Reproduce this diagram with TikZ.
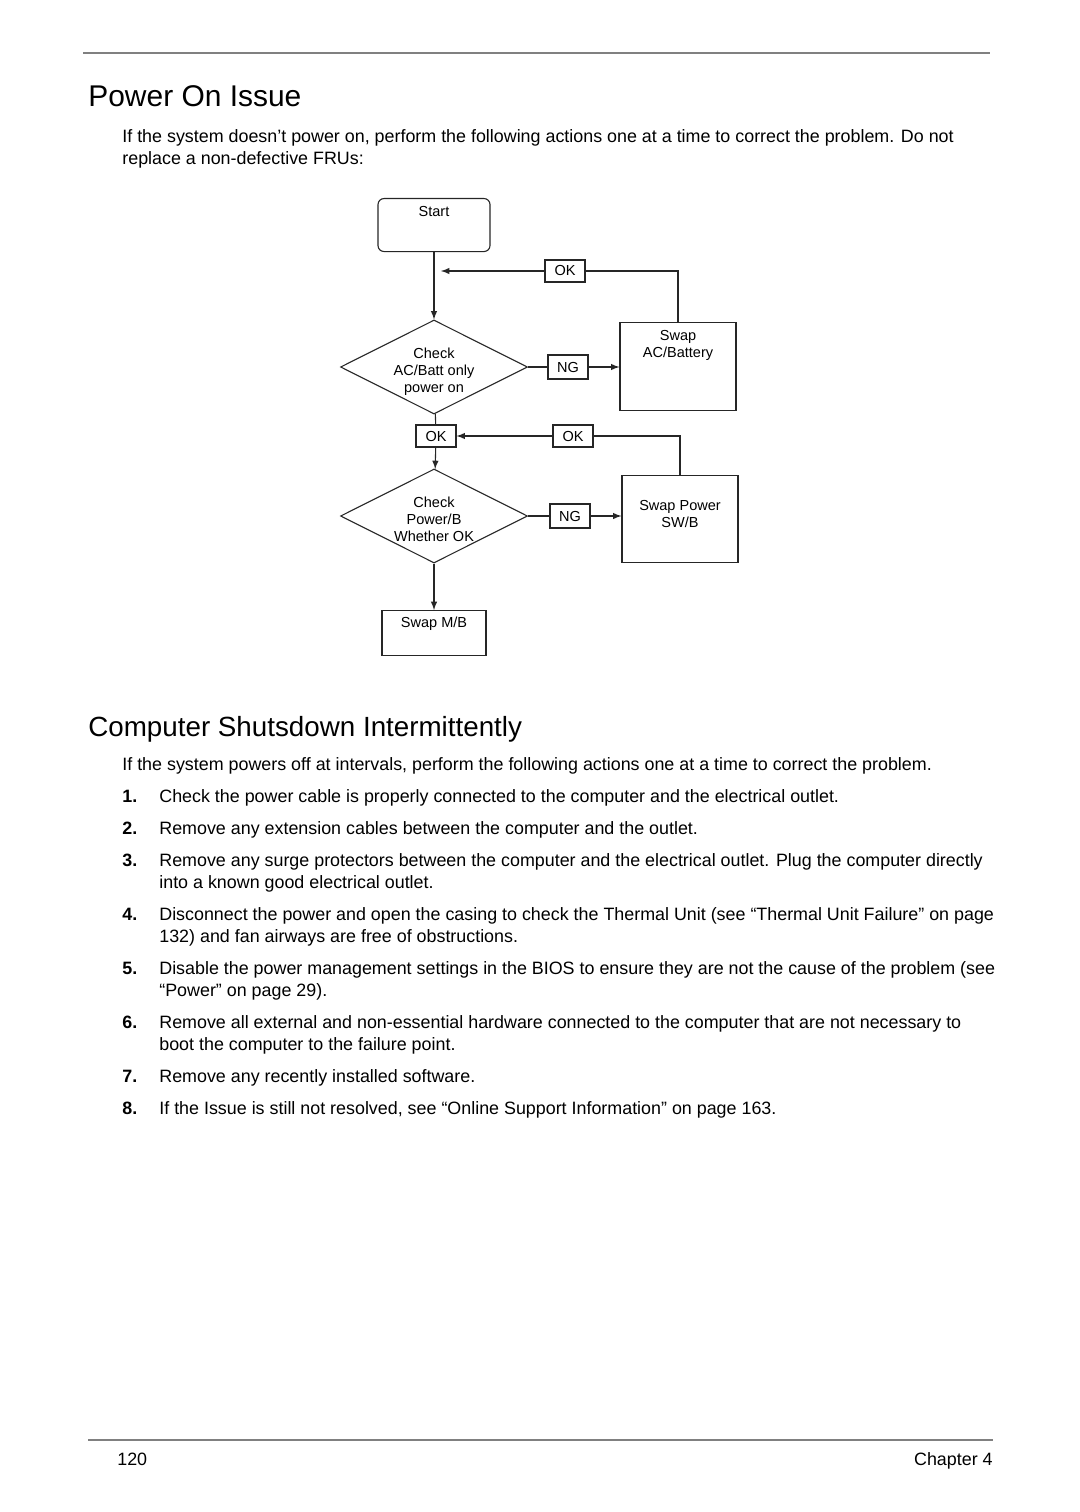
\documentclass[tikz,border=0pt]{standalone}
\usepackage{fontspec}
\setmainfont{Liberation Sans}
\usetikzlibrary{shapes.geometric}

\newdimen\pxu \pxu=0.551pt
\tikzset{
    box/.style={draw=black!85, line width=0.6pt, rectangle, inner sep=0pt, align=center, anchor=north, font=\fontsize{8}{9.4}\selectfont},
    tag/.style={draw=black!85, line width=0.6pt, minimum width=40\pxu, minimum height=22\pxu, inner sep=0pt, font=\fontsize{8}{9.4}\selectfont},
    decide/.style={draw=black!85, line width=0.6pt, diamond, aspect=2, inner sep=0pt, minimum width=187\pxu, minimum height=94\pxu, align=center, text height=28.5pt, text depth=0pt, font=\fontsize{8}{9.6}\selectfont},
    flow/.style={black!85, line width=0.6pt},
    body/.style={anchor=base west, inner sep=0pt, font=\fontsize{9.85}{12.1}\selectfont},
    rule/.style={gray, line width=1.1pt},
}

\begin{document}
\begin{tikzpicture}[>=latex, x=\pxu, y=-\pxu]
        \useasboundingbox (0,0) rectangle (1080,1512);

        \draw[rule] (83,53)--(990,53);
        \node[anchor=base west, inner sep=0pt, font=\fontsize{16.5}{20}\selectfont] (title) at (88,107) {Power On Issue};
        \node[body] (introA) at (122,143) {If the system doesn’t power on, perform the following actions one at a time to correct the problem. Do not};
        \node[body] (introB) at (122,165) {replace a non-defective FRUs:};

        % flowchart
        \node[box, rounded corners=6\pxu, minimum width=112\pxu, text height=18\pxu, text depth=35\pxu] (start) at (434,198) {Start};
        \node[decide] (chkA) at (434,367) {Check\\AC/Batt only\\power on};
        \node[tag] (okA) at (565,271) {OK};
        \node[tag, minimum height=24\pxu] (ngA) at (568,367) {NG};
        \node[box, minimum width=116\pxu, text height=35\pxu, text depth=53\pxu] (swapA) at (678,322) {Swap\\AC/Battery};
        \coordinate (mergeA) at (441,271);

        \node[tag] (okB) at (436,436) {OK};
        \node[tag] (okC) at (573,436) {OK};
        \node[decide] (chkB) at (434,516) {Check\\Power/B\\Whether OK};
        \node[tag, minimum height=24\pxu] (ngB) at (570,516) {NG};
        \node[box, minimum width=116\pxu, text height=52\pxu, text depth=35\pxu] (swapB) at (680,475) {Swap Power\\SW/B};
        \node[box, minimum width=104\pxu, text height=17\pxu, text depth=28\pxu] (swapM) at (434,610) {Swap M/B};

        \draw[flow,->] (start) -- (chkA);
        \draw[flow] (swapA.north) |- (okA);
        \draw[flow,->] (okA) -- (mergeA);
        \draw[flow] (chkA) -- (ngA);
        \draw[flow,->] (ngA) -- (swapA.west |- ngA);
        \draw[flow] (chkA) -- (okB);
        \draw[flow,->] (okB) -- (chkB);
        \draw[flow] (swapB.north) |- (okC);
        \draw[flow,->] (okC) -- (okB);
        \draw[flow] (chkB) -- (ngB);
        \draw[flow,->] (ngB) -- (swapB.west |- ngB);
        \draw[flow,->] (chkB) -- (swapM);

        % second section
        \node[anchor=base west, inner sep=0pt, font=\fontsize{15.3}{18}\selectfont] (sub) at (88,736) {Computer Shutsdown Intermittently};
        \node[body] (introC) at (122,770) {If the system powers off at intervals, perform the following actions one at a time to correct the problem.};
        \foreach \y/\n/\t in {802/1/{Check the power cable is properly connected to the computer and the electrical outlet.},
                              834/2/{Remove any extension cables between the computer and the outlet.},
                              866/3/{Remove any surge protectors between the computer and the electrical outlet. Plug the computer directly},
                              920/4/{Disconnect the power and open the casing to check the Thermal Unit (see “Thermal Unit Failure” on page},
                              974/5/{Disable the power management settings in the BIOS to ensure they are not the cause of the problem (see},
                              1028/6/{Remove all external and non-essential hardware connected to the computer that are not necessary to},
                              1082/7/{Remove any recently installed software.},
                              1114/8/{If the Issue is still not resolved, see “Online Support Information” on page 163.}}
        {
            \node[body, font=\fontsize{9.85}{12.1}\selectfont\bfseries] (num\n) at (122,\y) {\n.};
            \node[body] (item\n) at (159,\y) {\t};
        }
        \foreach \y/\n/\t in {888/3/{into a known good electrical outlet.},
                              942/4/{132) and fan airways are free of obstructions.},
                              996/5/{“Power” on page 29).},
                              1050/6/{boot the computer to the failure point.}}
        {
            \node[body] (more\n) at (159,\y) {\t};
        }

        % footer
        \draw[rule] (88,1440)--(993,1440);
        \node[body] (page) at (117,1465) {120};
        \node[body, anchor=base east] (chap) at (993,1465) {Chapter 4};

    \end{tikzpicture}
\end{document}
